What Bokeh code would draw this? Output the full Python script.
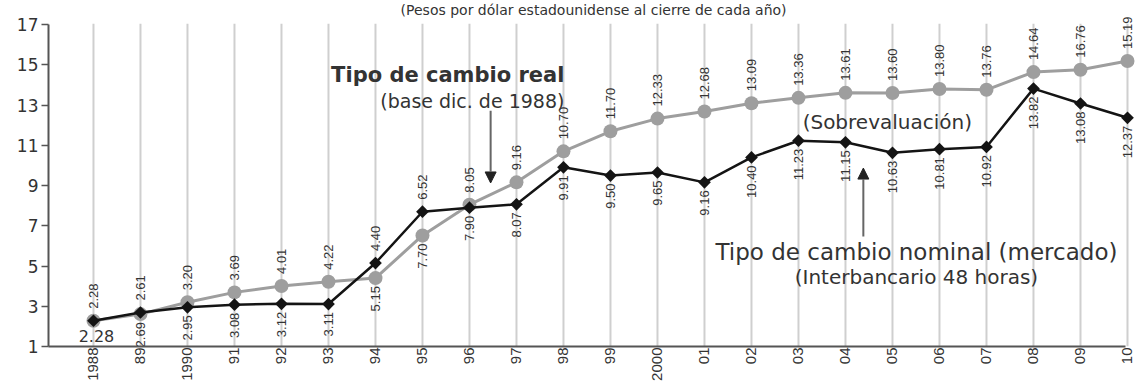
import math
from bokeh.plotting import figure
from bokeh.models import Range1d, FixedTicker, ColumnDataSource, Arrow, NormalHead, Label
from bokeh.core.properties import value
from bokeh.embed import file_html
from bokeh.resources import INLINE

# ---------------- data ----------------
years = list(range(1988, 2011))
tick_labels = ["1988", "89", "1990", "91", "92", "93", "94", "95", "96", "97", "98", "99",
               "2000", "01", "02", "03", "04", "05", "06", "07", "08", "09", "10"]
real = [2.28, 2.61, 3.20, 3.69, 4.01, 4.22, 4.40, 6.52, 8.05, 9.16, 10.70, 11.70,
        12.33, 12.68, 13.09, 13.36, 13.61, 13.60, 13.80, 13.76, 14.64, 14.76, 15.19]
real_labels = ["2.28", "2.61", "3.20", "3.69", "4.01", "4.22", "4.40", "6.52", "8.05", "9.16",
               "10.70", "11.70", "12.33", "12.68", "13.09", "13.36", "13.61", "13.60", "13.80",
               "13.76", "14.64", "16.76", "15.19"]
nominal = [2.28, 2.69, 2.95, 3.08, 3.12, 3.11, 5.15, 7.70, 7.90, 8.07, 9.91, 9.50,
           9.65, 9.16, 10.40, 11.23, 11.15, 10.63, 10.81, 10.92, 13.82, 13.08, 12.37]
nominal_labels = ["2.28", "2.69", "2.95", "3.08", "3.12", "3.11", "5.15", "7.70", "7.90", "8.07",
                  "9.91", "9.50", "9.65", "9.16", "10.40", "11.23", "11.15", "10.63", "10.81",
                  "10.92", "13.82", "13.08", "12.37"]
y_ticks = [1, 3, 5, 7, 9, 11, 13, 15, 17]

# ---------------- styles ----------------
SANS = "Liberation Sans"
WIDE = "DejaVu Sans"
TXT = "#333333"
GRAY = "#9e9e9e"
BLACK = "#141414"

W, H = 1137, 383
X0, X1 = 1987.043, 2010.213
Y0, Y1 = 1, 18.2
p = figure(width=W, height=H, output_backend="svg", toolbar_location=None,
           x_range=Range1d(X0, X1), y_range=Range1d(Y0, Y1),
           min_border_left=48, min_border_right=0, min_border_top=0, min_border_bottom=0)
p.outline_line_color = None
p.grid.visible = False

# vertical grid lines
p.segment(x0=years, y0=[y_ticks[0]] * len(years), x1=years, y1=[y_ticks[-1] + 0.05] * len(years),
          line_color="#cfcfcf", line_width=2)

# series
p.line(years, real, line_color=GRAY, line_width=3)
p.scatter(years, real, marker="circle", size=14, fill_color=GRAY, line_color=None)
p.line(years, nominal, line_color=BLACK, line_width=2.5)
p.scatter(years, nominal, marker="square", angle=math.pi / 4, size=9,
          fill_color=BLACK, line_color=None)

# value labels
upper_y = [max(a, b) for a, b in zip(real, nominal)]
lower_y = [min(a, b) for a, b in zip(real, nominal)]
src_up = ColumnDataSource(dict(x=years, y=upper_y, t=real_labels))
p.text(x="x", y="y", text="t", source=src_up, angle=math.pi / 2, text_align="left",
       text_baseline="middle", y_offset=-12, text_font=value(SANS), text_font_size="13px",
       text_color=TXT)
src_lo = ColumnDataSource(dict(x=years[1:], y=lower_y[1:], t=nominal_labels[1:]))
p.text(x="x", y="y", text="t", source=src_lo, angle=math.pi / 2, text_align="right",
       text_baseline="middle", y_offset=8, text_font=value(SANS), text_font_size="13px",
       text_color=TXT)
src_lo0 = ColumnDataSource(dict(x=years[:1], y=lower_y[:1], t=nominal_labels[:1]))
p.text(x="x", y="y", text="t", source=src_lo0, angle=0, text_align="center",
       text_baseline="top", y_offset=9, x_offset=3, text_font=value(WIDE), text_font_size="16px",
       text_color=TXT)

# axes
p.yaxis.ticker = FixedTicker(ticks=y_ticks)
p.yaxis.bounds = (y_ticks[0], y_ticks[-1])
p.yaxis.axis_line_color = "#555555"
p.yaxis.axis_line_width = 2
p.yaxis.major_tick_line_color = "#555555"
p.yaxis.major_tick_line_width = 1.5
p.yaxis.major_tick_out = 7
p.yaxis.major_tick_in = 0
p.yaxis.minor_tick_line_color = None
p.yaxis.major_label_standoff = 3
p.yaxis.major_label_text_font = WIDE
p.yaxis.major_label_text_font_size = "17px"
p.yaxis.major_label_text_color = TXT

p.xaxis.ticker = FixedTicker(ticks=years)
p.xaxis.major_label_overrides = {y: t for y, t in zip(years, tick_labels)}
p.xaxis.bounds = (X0 - 0.2, 2009.95)
p.xaxis.axis_line_color = "#555555"
p.xaxis.axis_line_width = 2
p.xaxis.major_tick_line_color = None
p.xaxis.major_tick_out = 0
p.xaxis.major_tick_in = 0
p.xaxis.minor_tick_line_color = None
p.xaxis.major_label_orientation = math.pi / 2
p.xaxis.major_label_standoff = 1
p.xaxis.major_label_text_font = SANS
p.xaxis.major_label_text_font_size = "15px"
p.xaxis.major_label_text_color = TXT

# annotations
p.add_layout(Label(x=1998.64, y=Y1 - 0.06, text="(Pesos por dólar estadounidense al cierre de cada año)",
                   text_align="center", text_baseline="top", text_font=WIDE,
                   text_font_size="14px", text_color=TXT))
p.add_layout(Label(x=1998.02, y=14.50, text="Tipo de cambio real", text_align="right",
                   text_baseline="middle", text_font=WIDE, text_font_style="bold",
                   text_font_size="21px", text_color=TXT))
p.add_layout(Label(x=1998.02, y=13.22, text="(base dic. de 1988)", text_align="right",
                   text_baseline="middle", text_font=WIDE, text_font_size="19px", text_color=TXT))
p.add_layout(Label(x=2004.89, y=12.18, text="(Sobrevaluación)", text_align="center",
                   text_baseline="middle", text_font=WIDE, text_font_size="20px", text_color=TXT))
p.add_layout(Label(x=2005.51, y=5.68, text="Tipo de cambio nominal (mercado)", text_align="center",
                   text_baseline="middle", text_font=WIDE, text_font_size="23px", text_color=TXT))
p.add_layout(Label(x=2005.51, y=4.45, text="(Interbancario 48 horas)", text_align="center",
                   text_baseline="middle", text_font=WIDE, text_font_size="20px", text_color=TXT))

p.add_layout(Arrow(end=NormalHead(size=11, fill_color="#222222", line_color="#222222"),
                   x_start=1996.45, y_start=12.72, x_end=1996.45, y_end=9.13,
                   line_color="#666666", line_width=2))
p.add_layout(Arrow(end=NormalHead(size=11, fill_color="#222222", line_color="#222222"),
                   x_start=2004.38, y_start=6.47, x_end=2004.38, y_end=9.87,
                   line_color="#666666", line_width=2))

open("out.html", "w").write(file_html(p, INLINE))
